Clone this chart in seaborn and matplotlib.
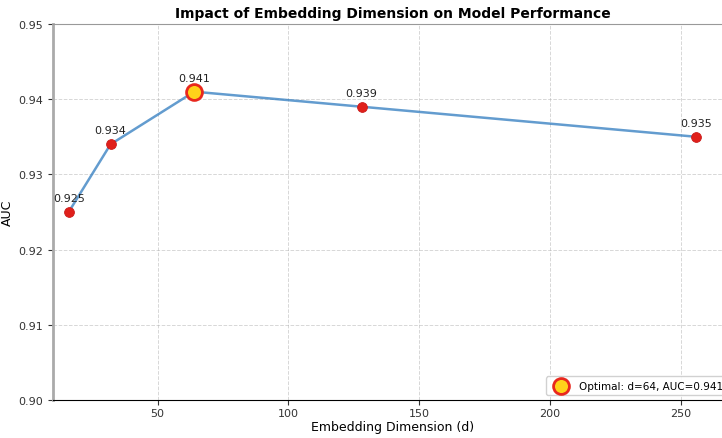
import seaborn as sns
import pandas as pd
import matplotlib.pyplot as plt

dims = [16, 32, 64, 128, 256]
auc = [0.925, 0.934, 0.941, 0.939, 0.935]
best_dim = 64
best_auc = 0.941

df = pd.DataFrame({"dim": dims, "auc": auc})

fig = plt.figure(figsize=(7.22, 4.39), dpi=100)
ax = fig.add_axes([53 / 722, 38 / 439, 680 / 722, 376 / 439])

sns.lineplot(ax=ax, data=df, x="dim", y="auc", color="#2f7bbf", alpha=0.75, linewidth=1.8)
sns.scatterplot(ax=ax, data=df, x="dim", y="auc", color="#e0201b", edgecolor="#c81a1a",
                s=50, zorder=3, legend=False)
ax.scatter([best_dim], [best_auc], s=130, color="#ffd21a", edgecolor="#e8281e",
           linewidth=2, zorder=4, label=f"Optimal: d={best_dim}, AUC={best_auc}")

for d, a in zip(dims, auc):
    ax.annotate(f"{a:.3f}", (d, a), textcoords="offset points", xytext=(0, 8),
                ha="center", fontsize=8, color="#222222")

ax.set_xlim(10, 270)
ax.set_ylim(0.90, 0.95)
ax.set_yticks([0.90, 0.91, 0.92, 0.93, 0.94, 0.95])
ax.set_yticklabels(["0.90", "0.91", "0.92", "0.93", "0.94", "0.95"])
ax.set_xticks([50, 100, 150, 200, 250])
ax.tick_params(labelsize=8, colors="#333333")
ax.tick_params(axis="x", pad=2)
ax.grid(True, linestyle="--", alpha=0.5, linewidth=0.7)
ax.spines["left"].set_color("#aaaaaa")
ax.spines["left"].set_linewidth(2)
ax.spines["top"].set_color("#999999")

ax.set_xlabel("Embedding Dimension (d)", fontsize=9, labelpad=2)
ax.set_ylabel("AUC", fontsize=9, labelpad=3)
ax.set_title("Impact of Embedding Dimension on Model Performance", fontsize=10,
             fontweight="bold", pad=5)
ax.legend(loc="lower right", fontsize=7.5, framealpha=0.9)

fig.savefig("out.png", dpi=100)
